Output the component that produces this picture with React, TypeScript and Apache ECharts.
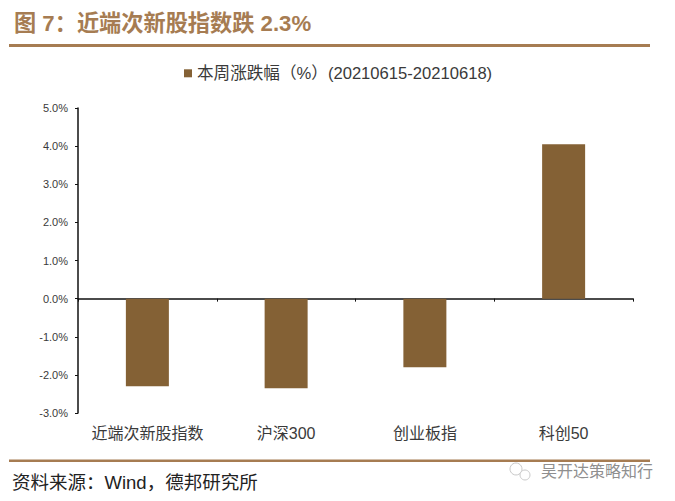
import React, { useEffect, useRef } from "react";
import * as echarts from "echarts";

const titleText = "图 7\uFF1A近端次新股指数跌 2.3%";
const seriesName = "本周涨跌幅\uFF08%\uFF09(20210615-20210618)";
const sourceText = "资料来源\uFF1AWind\uFF0C德邦研究所";
const watermarkText = "吴开达策略知行";
const categories = ["近端次新股指数", "沪深300", "创业板指", "科创50"];
const values = [-2.3, -2.35, -1.8, 4.05];

const CJK = '"Liberation Sans", "Noto Sans CJK SC", sans-serif';
const BROWN = "#A67C52";
const BAR = "#846135";
const TEXT = "#3a3a3a";

export default function App() {
  const ref = useRef<HTMLDivElement>(null);
  useEffect(() => {
    const chart = echarts.init(ref.current!, undefined, { renderer: "svg" });
    chart.setOption({
      animation: false,
      backgroundColor: "#fff",
      title: {
        text: titleText,
        left: 9,
        top: 7,
        textStyle: { fontFamily: CJK, fontSize: 22.2, fontWeight: "bold", color: BROWN },
      },
      legend: {
        top: 60,
        left: 179,
        itemWidth: 8,
        itemHeight: 8,
        itemGap: 6,
        icon: "rect",
        textStyle: { fontFamily: CJK, fontSize: 16.6, color: TEXT },
        data: [seriesName],
      },
      grid: { left: 78, right: 42, top: 108, bottom: 88, containLabel: false },
      xAxis: [
        {
          type: "category",
          data: categories,
          axisLine: { onZero: true, lineStyle: { color: "#111", width: 1.5 } },
          axisTick: { show: true, inside: false, length: 3, lineStyle: { color: "#111" } },
          axisLabel: { show: false },
          splitLine: { show: false },
        },
        {
          type: "category",
          position: "bottom",
          data: categories,
          axisLine: { show: false, onZero: false },
          axisTick: { show: false },
          axisLabel: { interval: 0, hideOverlap: false, fontFamily: CJK, fontSize: 16, color: TEXT, margin: 12 },
          splitLine: { show: false },
        },
      ],
      yAxis: {
        type: "value",
        min: -3,
        max: 5,
        interval: 1,
        axisLine: { show: true, onZero: false, lineStyle: { color: "#111", width: 1.5 } },
        axisTick: { show: true, length: 3, lineStyle: { color: "#111" } },
        axisLabel: {
          fontFamily: CJK,
          fontSize: 11,
          color: TEXT,
          margin: 10,
          formatter: (v: number) => v.toFixed(1) + "%",
        },
        splitLine: { show: false },
      },
      series: [
        {
          name: seriesName,
          type: "bar",
          data: values,
          barWidth: 43,
          itemStyle: { color: BAR },
        },
      ],
      graphic: [
        { type: "rect", shape: { x: 9, y: 44, width: 641, height: 3 }, style: { fill: BROWN } },
        { type: "rect", shape: { x: 9, y: 459.5, width: 641, height: 2.5 }, style: { fill: BROWN } },
        {
          type: "text",
          x: 12,
          y: 473,
          style: { text: sourceText, fontFamily: CJK, fontSize: 18.5, fill: "#222" },
        },
        { type: "circle", shape: { cx: 516, cy: 469, r: 6 }, style: { fill: "#fff", stroke: "#c9c9c9", lineWidth: 1 } },
        { type: "circle", shape: { cx: 525, cy: 475, r: 5 }, style: { fill: "#fff", stroke: "#c9c9c9", lineWidth: 1 } },
        {
          type: "text",
          x: 541,
          y: 463,
          style: { text: watermarkText, fontFamily: CJK, fontSize: 16, fill: "#8f8f8f" },
        },
      ],
    });
    return () => chart.dispose();
  }, []);
  return <div ref={ref} style={{ position: "absolute", left: 0, top: 0, width: 675, height: 501 }} />;
}
